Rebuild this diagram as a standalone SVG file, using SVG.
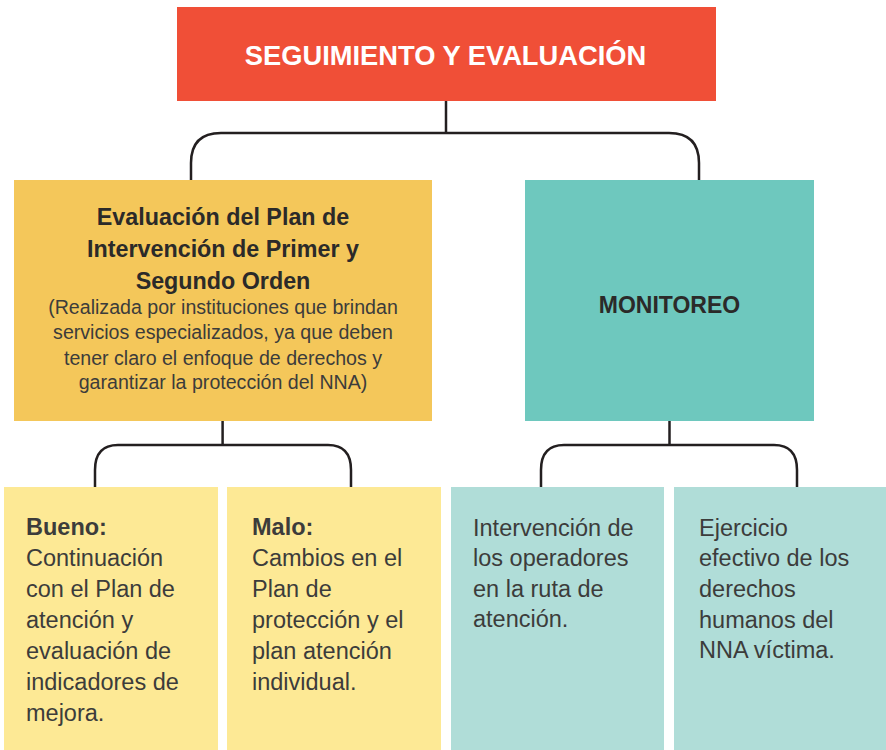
<svg xmlns="http://www.w3.org/2000/svg" width="886" height="750" viewBox="0 0 886 750">
<style>
.t{font-family:"Liberation Sans",Arial,sans-serif;}
.b{font-weight:bold;}
.dark{fill:#2b2a29;}
.body{fill:#3c3c3b;font-size:23.5px;}
.conn{fill:none;stroke:#231f20;stroke-width:2.5;}
</style>
<rect width="886" height="750" fill="#ffffff"/>
<g id="connectors">
<path class="conn" d="M446,101 V133"/>
<path class="conn" d="M191,180 V163 Q191,133 221,133 H669 Q699,133 699,163 V180"/>
<path class="conn" d="M222.6,421 V445"/>
<path class="conn" d="M95,487 V470 Q95,445 118,445 H328 Q351,445 351,470 V487"/>
<path class="conn" d="M669.5,421 V445"/>
<path class="conn" d="M541,487 V470 Q541,445 564,445 H774 Q797,445 797,470 V487"/>
</g>
<g id="node-root">
<rect x="177" y="7" width="539" height="94" fill="#f04f37"/>
<text class="t b" x="445.5" y="65" font-size="27.3" fill="#ffffff" text-anchor="middle">SEGUIMIENTO Y EVALUACIÓN</text>
</g>
<g id="node-evaluacion">
<rect x="14" y="180" width="418" height="241" fill="#f4c75a"/>
<g class="t b dark" font-size="23.3" text-anchor="middle">
<text x="223" y="225">Evaluación del Plan de</text>
<text x="223" y="257">Intervención de Primer y</text>
<text x="223" y="289">Segundo Orden</text>
</g>
<g class="t" font-size="19.6" fill="#3c3c3b" text-anchor="middle">
<text x="223" y="314">(Realizada por instituciones que brindan</text>
<text x="223" y="339">servicios especializados, ya que deben</text>
<text x="223" y="365">tener claro el enfoque de derechos y</text>
<text x="223" y="389">garantizar la protección del NNA)</text>
</g>
</g>
<g id="node-monitoreo">
<rect x="525" y="180" width="289" height="241" fill="#6ec8be"/>
<text class="t b dark" x="669.5" y="313" font-size="23" text-anchor="middle">MONITOREO</text>
</g>
<g id="node-bueno">
<rect x="4" y="487" width="214" height="263" fill="#fde995"/>
<g class="t body">
<text x="26" y="535" class="b">Bueno:</text>
<text x="26" y="566">Continuación</text>
<text x="26" y="597">con el Plan de</text>
<text x="26" y="628">atención y</text>
<text x="26" y="659">evaluación de</text>
<text x="26" y="690">indicadores de</text>
<text x="26" y="721">mejora.</text>
</g>
</g>
<g id="node-malo">
<rect x="227" y="487" width="214" height="263" fill="#fde995"/>
<g class="t body">
<text x="252" y="535" class="b">Malo:</text>
<text x="252" y="566">Cambios en el</text>
<text x="252" y="597">Plan de</text>
<text x="252" y="628">protección y el</text>
<text x="252" y="659">plan atención</text>
<text x="252" y="690">individual.</text>
</g>
</g>
<g id="node-intervencion">
<rect x="451" y="487" width="213" height="263" fill="#b0ddd8"/>
<g class="t body">
<text x="473" y="536">Intervención de</text>
<text x="473" y="566">los operadores</text>
<text x="473" y="597">en la ruta de</text>
<text x="473" y="627">atención.</text>
</g>
</g>
<g id="node-ejercicio">
<rect x="674" y="487" width="212" height="263" fill="#b0ddd8"/>
<g class="t body">
<text x="699" y="536">Ejercicio</text>
<text x="699" y="566">efectivo de los</text>
<text x="699" y="597">derechos</text>
<text x="699" y="628">humanos del</text>
<text x="699" y="658">NNA víctima.</text>
</g>
</g>
</svg>
